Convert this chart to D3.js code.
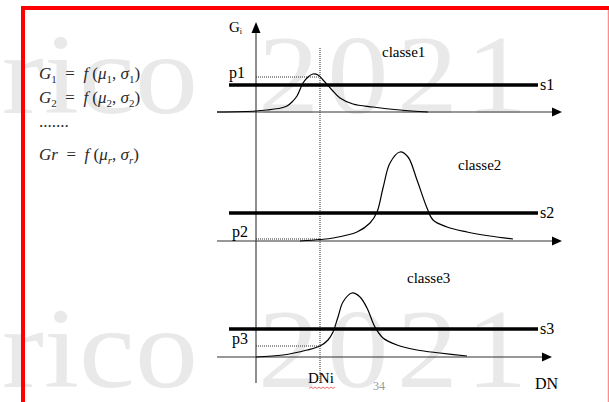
<!DOCTYPE html>
<html lang="fr">
<head>
<meta charset="UTF-8">
<title>Classification - probabilités par classe</title>
<script src="https://cdn.jsdelivr.net/npm/d3@7"></script>
<style>
  body { margin: 0; background: #fff; }
  svg text { font-family: "Liberation Serif", "DejaVu Serif", serif; white-space: pre; }
</style>
</head>
<body>
<script>
// données : DN (abscisse) et hauteur G au-dessus de l'axe de chaque classe
const classes = ["classe1", "classe2", "classe3"];
const seuils = ["s1", "s2", "s3"];
const probas = ["p1", "p2", "p3"];
const niveauxSeuil = [27, 28, 28];
const valeursP = [35, 2, 11];
const dni = 64;

const courbe1 = [[-39, 0], [0, 1], [11, 2], [25, 4], [31, 6], [36, 10], [41, 16], [47, 29], [52, 35],
  [57, 38], [62, 37], [67, 32], [76, 22], [84, 14], [97, 8], [117, 5], [144, 2], [172, 0]];
const courbe2 = [[44, 0], [64, 1.5], [77, 3], [101, 9], [114, 18], [121, 29], [127, 53], [134, 78],
  [144, 89], [152, 84], [161, 61], [171, 33], [177, 21], [191, 14], [211, 9], [234, 5], [257, 2]];
const courbe3 = [[0, 0], [27, 2], [51, 7], [64, 11], [72, 17], [77, 25], [82, 40], [87, 55], [96, 64],
  [104, 60], [111, 49], [119, 30], [127, 19], [141, 12], [161, 7], [184, 4], [211, 1]];
const courbes = [courbe1, courbe2, courbe3];

// morceaux de formule : [texte, style] (i = italique, s = indice, si = indice italique)
const formules = [
  [["G", "i"], ["1", "s"], ["  =  ", "n"], ["f", "i"], [" (", "n"], ["μ", "i"], ["1", "s"], [", ", "n"], ["σ", "i"], ["1", "s"], [")", "n"]],
  [["G", "i"], ["2", "s"], ["  =  ", "n"], ["f", "i"], [" (", "n"], ["μ", "i"], ["2", "s"], [", ", "n"], ["σ", "i"], ["2", "s"], [")", "n"]],
  [[".......", "n"]],
  [["Gr", "i"], ["  =  ", "n"], ["f", "i"], [" (", "n"], ["μ", "i"], ["r", "si"], [", ", "n"], ["σ", "i"], ["r", "si"], [")", "n"]]
];

// mise en page
const w = 609, h = 402;
const bases = [112, 241, 357];
const finAxe = [306, 306, 296];
const posClasse = [[126, 55], [202, 71], [151, 74]];

const svg = d3.select("body").append("svg")
  .attr("width", w).attr("height", h)
  .attr("font-family", "Liberation Serif, serif");

const x = d3.scaleLinear().domain([0, 300]).range([256, 556]);
const ys = bases.map(b => d3.scaleLinear().domain([0, 100]).range([b, b - 100]));

// filigrane
const fili = svg.append("g").attr("fill", "#e9e9e9").attr("font-size", 120);
[113, 387].forEach(yb => {
  fili.append("text").attr("x", 198).attr("y", yb).attr("text-anchor", "end")
    .attr("transform", `translate(198,${yb}) scale(1.05,0.96) translate(-198,${-yb})`)
    .text("rico");
  fili.append("text").attr("x", 258).attr("y", yb).attr("letter-spacing", 8)
    .attr("transform", `translate(258,${yb}) scale(1.02,0.94) translate(-258,${-yb})`)
    .text("2021");
});

// cadre rouge
svg.append("path").attr("d", "M23,402 V8 H609")
  .attr("fill", "none").attr("stroke", "#ff0000").attr("stroke-width", 4);
svg.append("line").attr("x1", 608.5).attr("x2", 608.5).attr("y1", 10).attr("y2", h)
  .attr("stroke", "#ff8c8c").attr("stroke-width", 1.5);

// formules
const eq = svg.append("g").attr("fill", "#2a2a2a").attr("font-size", 17);
const eqY = [79, 103, 127, 160];
const estIndice = k => k === "s" || k === "si";
formules.forEach((parts, i) => {
  const t = eq.append("text").attr("x", 39).attr("y", eqY[i]);
  parts.forEach(([s, k], j) => {
    const prev = j > 0 ? parts[j - 1][1] : "n";
    const sp = t.append("tspan").text(s)
      .attr("dy", estIndice(k) && !estIndice(prev) ? 4 : (!estIndice(k) && estIndice(prev) ? -4 : 0));
    if (k === "i" || k === "si") sp.attr("font-style", "italic");
    if (estIndice(k)) sp.attr("font-size", 11);
  });
});

// axe vertical G
svg.append("line").attr("x1", x(0)).attr("x2", x(0)).attr("y1", 383).attr("y2", 30)
  .attr("stroke", "#444").attr("stroke-width", 1.2);
svg.append("path").attr("d", `M${x(0)},22 L${x(0) - 4.5},33 L${x(0) + 4.5},33 Z`).attr("fill", "#000");
const gl = svg.append("text").attr("x", 229).attr("y", 32).attr("font-size", 15).text("G");
gl.append("tspan").attr("font-size", 8).attr("dy", 2).text("i");

// ligne pointillée DNi
svg.append("line").attr("x1", x(dni)).attr("x2", x(dni)).attr("y1", 48).attr("y2", 384)
  .attr("stroke", "#333").attr("stroke-width", 1).attr("stroke-dasharray", "1,1");

const ligne = d3.line().x(d => x(d[0])).curve(d3.curveCatmullRom.alpha(0.5));

classes.forEach((c, i) => {
  const y = ys[i];
  const g = svg.append("g");
  // axe DN de la classe
  g.append("line").attr("x1", x(-39)).attr("x2", x(finAxe[i]) - 8)
    .attr("y1", y(0)).attr("y2", y(0)).attr("stroke", "#333").attr("stroke-width", 1.2);
  g.append("path")
    .attr("d", `M${x(finAxe[i])},${y(0)} L${x(finAxe[i]) - 10},${y(0) - 4.5} L${x(finAxe[i]) - 10},${y(0) + 4.5} Z`)
    .attr("fill", "#000");
  // seuil
  g.append("line").attr("x1", x(-27)).attr("x2", x(282))
    .attr("y1", y(niveauxSeuil[i])).attr("y2", y(niveauxSeuil[i]))
    .attr("stroke", "#000").attr("stroke-width", 3.5);
  g.append("text").attr("x", x(284)).attr("y", y(niveauxSeuil[i]) + 5)
    .attr("font-size", 16).text(seuils[i]);
  // probabilité en DNi
  g.append("line").attr("x1", x(0)).attr("x2", x(dni))
    .attr("y1", y(valeursP[i])).attr("y2", y(valeursP[i]))
    .attr("stroke", "#333").attr("stroke-width", 1).attr("stroke-dasharray", "1,1");
  g.append("text").attr("x", i === 0 ? 229 : 232).attr("y", y(valeursP[i]) + (i === 0 ? 1 : -2))
    .attr("font-size", 16).text(probas[i]);
  // courbe
  g.append("path").datum(courbes[i])
    .attr("d", ligne.y(d => y(d[1])))
    .attr("fill", "none").attr("stroke", "#000").attr("stroke-width", 1.2);
  g.append("text").attr("x", x(posClasse[i][0])).attr("y", y(posClasse[i][1]))
    .attr("font-size", 15).text(c);
});

// abscisses
svg.append("text").attr("x", x(dni) - 12).attr("y", 383).attr("font-size", 15).text("DNi");
svg.append("path").attr("d", d3.range(0, 14).map(k => `${k ? "L" : "M"}${309 + k * 2},${k % 2 ? 387 : 388.5}`).join(" "))
  .attr("fill", "none").attr("stroke", "#e03030").attr("stroke-width", 0.7);
svg.append("text").attr("x", 373).attr("y", 390).attr("font-size", 12).attr("fill", "#999").text("34");
svg.append("text").attr("x", 535).attr("y", 389).attr("font-size", 16).text("DN");
</script>
</body>
</html>
